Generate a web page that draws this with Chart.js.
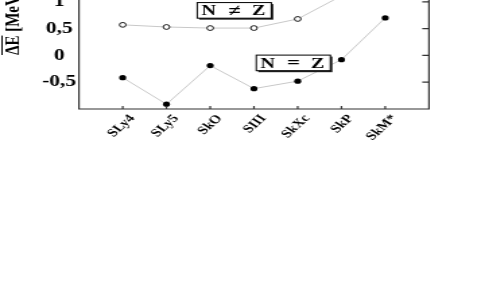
<!DOCTYPE html>
<html>
<head>
<meta charset="utf-8">
<script src="https://cdn.jsdelivr.net/npm/chart.js@4/dist/chart.umd.min.js"></script>
<style>
  html, body { margin: 0; padding: 0; background: #fff; overflow: hidden; }
  #wrap { width: 485px; height: 283px; overflow: hidden; }
  #chart { display: block; margin-top: -40px; }
</style>
</head>
<body>
<!-- the original picture is stretched sideways, so the canvas is too -->
<div id="wrap"><canvas id="chart" width="360" height="323" style="width:485px;height:323px"></canvas></div>
<script>
const categories = ["SLy4", "SLy5", "SkO", "SIII", "SkXc", "SkP", "SkM*"];
const equalNZ = [-0.415, -0.91, -0.19, -0.62, -0.48, -0.08, 0.70];
const unequalNZ = [0.57, 0.53, 0.51, 0.51, 0.68, 1.11, null];
const yTicks = [-0.5, 0, 0.5, 1];

// empty slot on each side of the categories
const labels = ["", ...categories, ""];
const pad = arr => [null, ...arr, null];

const serif = '"Liberation Serif", "Times New Roman", serif';

function drawBox(ctx, parts, cx, cy) {
    const w = 55, h = 15.6;
    const left = cx - w / 2, top = cy - h / 2;
    ctx.fillStyle = "#222";
    ctx.fillRect(left + 1.5, top + 1.5, w, h);
    ctx.fillStyle = "#fff";
    ctx.fillRect(left, top, w, h);
    ctx.strokeStyle = "#000";
    ctx.lineWidth = 1;
    ctx.strokeRect(left, top, w, h);
    ctx.fillStyle = "#000";
    ctx.font = "bold 15px " + serif;
    ctx.textAlign = "center";
    ctx.textBaseline = "middle";
    ctx.fillText(parts[0], cx - 19, cy + 1);
    ctx.font = "bold 17px " + serif;
    ctx.fillText(parts[1], cx, cy + 1);
    ctx.font = "bold 15px " + serif;
    ctx.fillText(parts[2], cx + 18, cy + 1);
}

const frame = {
    id: "frame",
    afterDraw(chart) {
        const { ctx, chartArea: a, scales: { x, y } } = chart;
        ctx.save();
        ctx.strokeStyle = "#333";
        ctx.lineWidth = 1.2;
        ctx.beginPath();
        ctx.moveTo(a.left, a.top);
        ctx.lineTo(a.left, a.bottom);
        ctx.lineTo(a.right, a.bottom);
        ctx.lineTo(a.right, a.top);
        ctx.lineTo(a.left, a.top);
        ctx.stroke();

        // inward tick marks
        ctx.beginPath();
        categories.forEach((c, i) => {
            const px = x.getPixelForValue(i + 1);
            ctx.moveTo(px, a.bottom);
            ctx.lineTo(px, a.bottom - 3);
        });
        yTicks.forEach(v => {
            const py = y.getPixelForValue(v);
            ctx.moveTo(a.right, py);
            ctx.lineTo(a.right - 5, py);
        });
        ctx.stroke();

        drawBox(ctx, ["N", "\u2260", "Z"], x.getPixelForValue(3.55), y.getPixelForValue(0.84));
        drawBox(ctx, ["N", "=", "Z"], x.getPixelForValue(4.9), y.getPixelForValue(-0.14));

        // axis title with a bar over ΔE
        ctx.translate(14, 95);
        ctx.rotate(-Math.PI / 2);
        ctx.font = "bold 15px " + serif;
        ctx.textAlign = "left";
        ctx.textBaseline = "alphabetic";
        ctx.fillStyle = "#000";
        ctx.fillText("\u0394E [MeV]", 0, 0);
        const wBar = ctx.measureText("\u0394E").width;
        ctx.lineWidth = 1;
        ctx.strokeStyle = "#000";
        ctx.beginPath();
        ctx.moveTo(0, -12.5);
        ctx.lineTo(wBar, -12.5);
        ctx.stroke();
        ctx.restore();
    }
};

new Chart(document.getElementById("chart"), {
    type: "line",
    data: {
        labels: labels,
        datasets: [{
            label: "N = Z",
            data: pad(equalNZ),
            borderColor: "#c8c8c8",
            borderWidth: 1,
            pointRadius: 2.6,
            pointBackgroundColor: "#000",
            pointBorderColor: "#000",
            pointBorderWidth: 0,
            tension: 0
        }, {
            label: "N \u2260 Z",
            data: pad(unequalNZ),
            borderColor: "#c8c8c8",
            borderWidth: 1,
            pointRadius: 2.4,
            pointBackgroundColor: "#fff",
            pointBorderColor: "#000",
            pointBorderWidth: 0.9,
            tension: 0
        }]
    },
    options: {
        responsive: false,
        animation: false,
        devicePixelRatio: 1,
        layout: { padding: { left: 0, right: 41.6, top: 15, bottom: 0 } },
        plugins: {
            legend: { display: false },
            tooltip: { enabled: false }
        },
        scales: {
            x: {
                offset: false,
                grid: { display: false, drawTicks: false },
                border: { display: false },
                ticks: {
                    autoSkip: false,
                    minRotation: 50,
                    maxRotation: 50,
                    padding: 3,
                    labelOffset: 7,
                    color: "#000",
                    font: { family: serif, size: 11.5, weight: "bold" }
                },
                afterFit(scale) { scale.height = 174; }
            },
            y: {
                min: -1,
                max: 1.5,
                grid: { display: false, drawTicks: false },
                border: { display: false },
                ticks: {
                    stepSize: 0.5,
                    crossAlign: "center",
                    padding: 2,
                    color: "#000",
                    font: { family: serif, size: 16, weight: "bold" },
                    callback: v => yTicks.includes(v) ? String(v).replace(".", ",") : ""
                },
                afterFit(scale) { scale.width = 58.6; }
            }
        }
    },
    plugins: [frame]
});
</script>
</body>
</html>
